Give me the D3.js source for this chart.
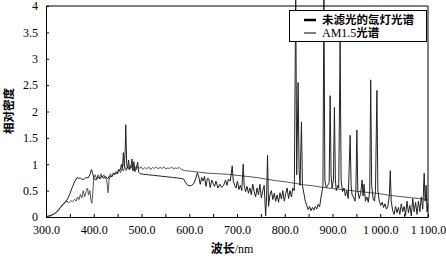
<!DOCTYPE html>
<html>
<head>
<meta charset="utf-8">
<script src="https://cdn.jsdelivr.net/npm/d3@7"></script>
<style>
  body { margin: 0; background: #fff; }
  svg { display: block; }
</style>
</head>
<body>
<svg id="chart" width="446" height="258"></svg>
<script>
// xenon lamp (unfiltered), wavelength / relative value
var xenonWl = [300,305,310,315,320,325,330,335,340,345,350,355,360,365,368,372,376,380,384,388,392,395,398,401,405,409,413,417,421,425,429,433,437,441,445,449,452,455,458,460,462,464,466,467,469,471,473,475,478,480,482,484,486,489,492,494,497,505,515,525,535,545,555,565,575,583,588,592,596,600,605,610,614,617,620,623,626,629,632,635,638,641,644,647,650,653,656,660,664,668,672,676,679,682,686,690,692,695,698,701,704,707,710,713,715,718,721,724,727,730,733,736,739,742,745,748,751,754,757,760,762,764,766,769,772,775,778,781,784,787,790,793,796,799,802,805,808,811,814,817,820,823,825,828,830,832,835,837,840,843,846,849,852,855,858,861,864,867,870,873,876,878,880,882,884,887,890,893,895,897,899,902,904,906,908,911,913,916,918,921,924,927,930,933,937,939,941,944,947,949,951,953,956,959,962,964,966,969,972,975,978,980,982,985,988,990,993,995,998,1001,1004,1007,1010,1013,1016,1019,1021,1023,1026,1029,1032,1035,1038,1041,1044,1047,1050,1053,1056,1059,1062,1065,1068,1071,1074,1077,1080,1083,1086,1089,1092,1094,1096,1098,1100];
var xenonVal = [0.01,0.02,0.03,0.05,0.08,0.12,0.18,0.23,0.28,0.34,0.44,0.56,0.67,0.75,0.73,0.74,0.71,0.72,0.75,0.74,0.8,0.9,0.82,0.72,0.7,0.76,0.72,0.78,0.73,0.77,0.72,0.78,0.76,0.8,0.84,0.82,0.9,0.88,1.0,0.92,1.22,0.95,1.3,1.75,1.0,0.92,1.08,0.9,0.95,1.1,0.88,1.05,0.86,0.92,1.04,0.85,0.82,0.81,0.8,0.79,0.78,0.77,0.76,0.75,0.74,0.73,0.72,0.66,0.61,0.59,0.6,0.64,0.74,0.84,0.76,0.62,0.75,0.68,0.77,0.58,0.73,0.72,0.56,0.7,0.64,0.58,0.68,0.55,0.62,0.56,0.6,0.7,0.6,0.72,0.68,0.97,0.7,0.6,0.55,0.68,0.52,0.6,0.5,1.0,0.6,0.48,0.58,0.45,0.55,0.42,0.62,0.48,0.38,0.55,0.42,0.62,0.36,0.5,0.6,0.02,0.4,1.17,0.2,0.42,0.5,0.33,0.45,0.3,0.42,0.28,0.46,0.34,0.5,0.3,0.44,0.55,0.35,0.5,0.38,0.55,0.5,4.3,0.8,2.55,0.9,0.6,1.8,0.6,0.45,0.3,0.22,0.14,0.2,0.12,0.18,0.13,0.2,0.15,0.24,0.19,0.38,0.48,0.6,4.3,0.7,0.55,0.6,0.65,2.3,0.8,0.55,0.7,2.08,0.7,0.5,0.6,0.55,3.32,0.7,0.48,0.55,0.4,0.5,0.35,1.55,0.6,0.42,0.38,0.3,0.5,1.65,0.5,0.35,0.45,0.7,0.4,0.62,0.3,0.38,0.28,0.5,2.6,0.6,0.35,0.3,0.5,2.4,0.5,0.3,0.22,0.28,0.18,0.25,0.15,0.2,0.4,0.88,0.3,0.12,0.05,0.2,0.08,0.18,0.05,0.25,0.1,0.2,0.03,0.3,0.08,0.22,0.02,0.35,0.1,0.28,0.05,0.3,0.1,0.38,0.15,0.83,0.3,0.6,0.1,0.25];

// AM1.5 reference spectrum
var am15Wl = [300,305,310,315,320,325,330,335,340,344,348,352,356,360,363,366,369,372,375,378,381,384,387,389,392,394,396,398,400,403,406,409,412,415,418,421,424,427,430,432,435,438,441,444,447,450,453,456,459,462,465,468,471,474,477,480,483,486,489,492,495,499,503,507,511,515,519,523,527,531,535,539,543,547,551,555,559,563,567,571,575,579,584,590,600,620,640,660,680,690,700,720,740,760,780,800,820,840,860,880,900,920,940,960,980,1000,1020,1040,1060,1080,1100];
var am15Val = [0.0,0.01,0.02,0.05,0.08,0.12,0.18,0.24,0.27,0.3,0.27,0.31,0.29,0.34,0.3,0.38,0.33,0.43,0.36,0.5,0.38,0.48,0.55,0.42,0.5,0.32,0.26,0.45,0.74,0.8,0.72,0.8,0.74,0.82,0.75,0.8,0.74,0.7,0.46,0.7,0.82,0.76,0.84,0.8,0.86,0.82,0.9,0.84,0.92,0.87,0.95,0.88,0.97,0.9,0.98,0.93,0.88,0.96,0.9,0.96,0.92,0.95,0.9,0.94,0.91,0.95,0.9,0.94,0.92,0.95,0.91,0.94,0.92,0.95,0.91,0.93,0.92,0.95,0.91,0.93,0.92,0.94,0.9,0.88,0.87,0.85,0.83,0.82,0.81,0.8,0.79,0.77,0.75,0.72,0.69,0.67,0.64,0.61,0.59,0.56,0.54,0.52,0.5,0.48,0.46,0.44,0.41,0.39,0.37,0.35,0.33];

var yTicks = [0,0.5,1,1.5,2,2.5,3,3.5,4];
var yTickLabels = ["0","0.5","1","1.5","2","2.5","3","3.5","4"];
var xTicks = [300,350,400,450,500,550,600,650,700,750,800,850,900,950,1000,1050,1100];
var xTickLabels = ["300.0","","400.0","","500.0","","600.0","","700.0","","800.0","","900.0","","1\u2009000.0","","1\u2009100.0"];
var seriesNames = ["未滤光的氙灯光谱", "AM1.5光谱"];

var svg = d3.select('#chart');
var padL = 46, padR = 428, padT = 6, padB = 217;

var x = d3.scaleLinear().domain([300, 1100]).range([padL, padR]);
var y = d3.scaleLinear().domain([0, 4]).range([padB, padT]);

var serif = '"Liberation Serif", "Times New Roman", serif';
var cjk = '"Noto Sans CJK SC", sans-serif';

// lines
var line = d3.line()
	.x(function(d) { return x(d[0]); })
	.y(function(d) { return y(d[1]); });

var am15 = am15Wl.map(function(w, i) { return [w, am15Val[i]]; });
var xenon = xenonWl.map(function(w, i) { return [w, xenonVal[i]]; });

svg.append('path')
	.attr('d', line(am15))
	.attr('fill', 'none')
	.attr('stroke', '#444')
	.attr('stroke-width', 0.9);
svg.append('path')
	.attr('d', line(xenon))
	.attr('fill', 'none')
	.attr('stroke', '#222')
	.attr('stroke-width', 1);

// frame
svg.append('path')
	.attr('d', 'M' + padL + ',' + padT + 'H' + padR + 'V' + padB)
	.attr('fill', 'none')
	.attr('stroke', '#000')
	.attr('stroke-width', 1);

var xAxis = d3.axisBottom(x)
	.tickValues(xTicks)
	.tickFormat(function(d, i) { return xTickLabels[i]; })
	.tickSizeInner(-3)
	.tickSizeOuter(0)
	.tickPadding(8);
var gx = svg.append('g')
	.attr('transform', 'translate(0,' + padB + ')')
	.call(xAxis);
gx.selectAll('text').attr('font-family', serif).attr('font-size', 12).attr('fill', '#000');

var yAxis = d3.axisLeft(y)
	.tickValues(yTicks)
	.tickFormat(function(d, i) { return yTickLabels[i]; })
	.tickSizeInner(-3)
	.tickSizeOuter(0)
	.tickPadding(8);
var gy = svg.append('g')
	.attr('transform', 'translate(' + padL + ',0)')
	.call(yAxis);
gy.selectAll('text').attr('font-family', serif).attr('font-size', 12).attr('fill', '#000');
svg.selectAll('.domain, .tick line').attr('stroke', '#000');

// axis titles
var xt = svg.append('text')
	.attr('x', 232)
	.attr('y', 253)
	.attr('text-anchor', 'middle')
	.attr('font-size', 12);
xt.append('tspan').attr('font-family', cjk).attr('font-weight', 'bold').text('波长');
xt.append('tspan').attr('font-family', serif).text('/nm');

svg.append('text')
	.attr('transform', 'translate(13,111) rotate(-90)')
	.attr('text-anchor', 'middle')
	.attr('font-family', cjk)
	.attr('font-weight', 'bold')
	.attr('font-size', 11.5)
	.text('相对密度');

// legend
var lg = svg.append('g');
lg.append('rect')
	.attr('x', 289.5).attr('y', 10.5)
	.attr('width', 137).attr('height', 31)
	.attr('fill', '#fff')
	.attr('stroke', '#000');
var widths = [2.5, 1];
seriesNames.forEach(function(name, i) {
	var ly = 20 + i * 13;
	lg.append('line')
		.attr('x1', 304).attr('x2', 316)
		.attr('y1', ly).attr('y2', ly)
		.attr('stroke', '#000')
		.attr('stroke-width', widths[i]);
	var t = lg.append('text')
		.attr('x', 322).attr('y', ly + 4)
		.attr('font-size', 11.5)
		.attr('fill', '#000');
	if (i === 0) {
		t.attr('font-family', cjk).attr('font-weight', 'bold').text(name);
	} else {
		t.append('tspan').attr('font-family', serif).attr('font-size', 12).text('AM1.5');
		t.append('tspan').attr('font-family', cjk).attr('font-weight', 'bold').text('光谱');
	}
});
</script>
</body>
</html>
